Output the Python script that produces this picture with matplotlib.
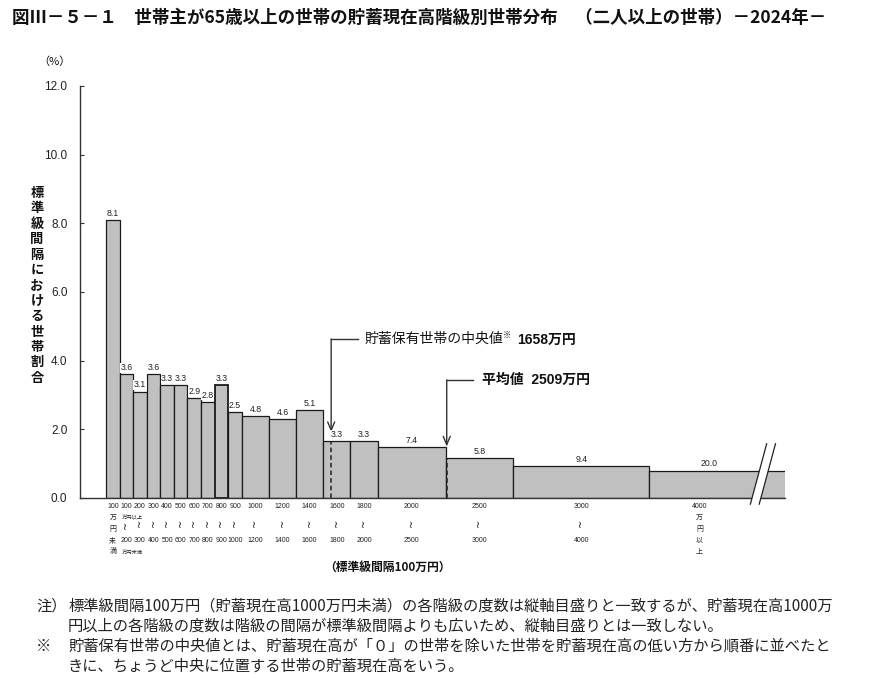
import matplotlib
matplotlib.use("Agg")
import matplotlib.pyplot as plt
import matplotlib.transforms as mtransforms
from matplotlib.patches import Polygon

plt.rcParams['font.family'] = ['Liberation Sans', 'Noto Sans CJK JP', 'DejaVu Sans']
CJK = ['Noto Sans CJK JP', 'DejaVu Sans']

# ---------------- data ----------------
class_lower = [0, 100, 200, 300, 400, 500, 600, 700, 800, 900,
               1000, 1200, 1400, 1600, 1800, 2000, 2500, 3000, 4000]
class_upper = [100, 200, 300, 400, 500, 600, 700, 800, 900, 1000,
               1200, 1400, 1600, 1800, 2000, 2500, 3000, 4000, None]
values = [8.1, 3.6, 3.1, 3.6, 3.3, 3.3, 2.9, 2.8, 3.3, 2.5,
          4.8, 4.6, 5.1, 3.3, 3.3, 7.4, 5.8, 9.4, 20.0]
# divisor relative to standard class width (100万円); open class drawn with 25
width_ratio = [1, 1, 1, 1, 1, 1, 1, 1, 1, 1, 2, 2, 2, 2, 2, 5, 5, 10, 25]
open_class_display_width = 1100

median_value = 1658
mean_value = 2509
median_label = "貯蓄保有世帯の中央値"
median_amount = "1658万円"
mean_label = "平均値  2509万円"

title = "図Ⅲ－５－１　世帯主が65歳以上の世帯の貯蓄現在高階級別世帯分布　（二人以上の世帯）－2024年－"
ylabel = "標準級間隔における世帯割合"
xlabel = "（標準級間隔100万円）"
yunit = "（%）"
yticks = [0, 2, 4, 6, 8, 10, 12]
notes = [
    ("注）", "標準級間隔100万円（貯蓄現在高1000万円未満）の各階級の度数は縦軸目盛りと一致するが、貯蓄現在高1000万"),
    ("", "円以上の各階級の度数は階級の間隔が標準級間隔よりも広いため、縦軸目盛りとは一致しない。"),
    ("※", "貯蓄保有世帯の中央値とは、貯蓄現在高が「０」の世帯を除いた世帯を貯蓄現在高の低い方から順番に並べたと"),
    ("", "きに、ちょうど中央に位置する世帯の貯蓄現在高をいう。"),
]

# ---------------- figure ----------------
W, H = 870, 680
fig = plt.figure(figsize=(W / 100, H / 100), dpi=100)
fig.patch.set_facecolor('white')

def fy(py):
    return 1 - py / H

def fx(px):
    return px / W

ax_left, ax_right, ax_bottom, ax_top = 80, 785, 498, 86
ax = fig.add_axes([fx(ax_left), fy(ax_bottom), (ax_right - ax_left) / W, (ax_bottom - ax_top) / H])
ax.set_xlim(-191.5, 5000)
ax.set_ylim(0, 12)

heights = [v / r for v, r in zip(values, width_ratio)]
widths = [(u - l) if u is not None else open_class_display_width
          for l, u in zip(class_lower, class_upper)]

bar_color = '#c0c0c0'
for i, (l, w, h) in enumerate(zip(class_lower, widths, heights)):
    lw = 1.3 if i == 8 else 0.9
    ax.bar(l, h, width=w, align='edge', color=bar_color, edgecolor='#1a1a1a',
           linewidth=lw, zorder=2)

# value labels
for i, (l, w, h, v) in enumerate(zip(class_lower, widths, heights, values)):
    cx = l + w / 2 if class_upper[i] is not None else l + 440
    ax.annotate(f"{v:.1f}", xy=(cx, h), xytext=(0, 1.5), textcoords='offset points',
                ha='center', va='bottom', fontsize=6.3, color='#222222',
                bbox=dict(boxstyle='square,pad=0.05', fc='white', ec='none'), zorder=4)

# axes style
for s in ['top', 'right']:
    ax.spines[s].set_visible(False)
ax.spines['left'].set_color('#333333')
ax.spines['bottom'].set_color('#333333')
ax.spines['left'].set_linewidth(1.0)
ax.spines['bottom'].set_linewidth(1.0)
ax.spines['bottom'].set_zorder(3)
ax.set_xticks([])
ax.set_yticks(yticks)
ax.set_yticklabels([f"{t:.1f}" for t in yticks], fontsize=8.5, color='#222222')
ax.tick_params(axis='y', direction='in', length=3, pad=9, color='#333333')

# break marks on open-ended class
gap = Polygon([(4745, -0.18), (4865, 1.58), (4930, 1.58), (4810, -0.18)], closed=True,
              fc='white', ec='none', zorder=5, clip_on=False)
ax.add_patch(gap)
ax.plot([4745, 4865], [-0.18, 1.58], color='#222222', lw=0.9, zorder=6, clip_on=False)
ax.plot([4810, 4930], [-0.18, 1.58], color='#222222', lw=0.9, zorder=6, clip_on=False)

# median / mean markers
def height_at(x):
    for l, u, h in zip(class_lower, class_upper, heights):
        if u is not None and l <= x < u:
            return h
    return heights[-1]

line_col = '#333333'
for xv, corner_y, tip_y, hx in [(median_value, 4.63, 1.92, 1856), (mean_value, 3.44, 1.50, 2702)]:
    hb = height_at(xv)
    ax.plot([xv, xv], [0, hb], color='#222222', lw=1.1, ls=(0, (3, 2)), zorder=3)
    ax.plot([xv, hx], [corner_y, corner_y], color=line_col, lw=1.0, zorder=3)
    ax.annotate('', xy=(xv, tip_y), xytext=(xv, corner_y),
                arrowprops=dict(arrowstyle='->,head_length=0.6,head_width=0.25',
                                color=line_col, lw=1.0, shrinkA=0, shrinkB=0), zorder=3)

ax.text(1907, 4.63, median_label, fontsize=10, va='center', ha='left', color='#111111',
        family=CJK)
fig.text(fx(503), fy(335), "※", fontsize=6, va='center', ha='left', color='#111111', family=CJK)
fig.text(fx(517), fy(340), median_amount, fontsize=10, va='center', ha='left',
         color='#111111', fontweight='bold')
ax.text(2769, 3.44, mean_label, fontsize=10, va='center', ha='left', color='#111111',
        fontweight='bold')

# x-axis class labels
tr = mtransforms.blended_transform_factory(ax.transData, fig.transFigure)
lab_kw = dict(ha='center', va='center', fontsize=5, color='#222222', transform=tr)
wave_kw = dict(ha='center', va='center', fontsize=7, color='#222222', transform=tr,
               family=['DejaVu Sans'], rotation=90)
for i, (l, u, w) in enumerate(zip(class_lower, class_upper, widths)):
    if i == 0:
        cx = l + w / 2
        for s, py in zip([str(u), "万", "円", "未", "満"], [507, 518, 530, 541, 552]):
            ax.text(cx, fy(py), s, **lab_kw)
    elif u is None:
        cx = l + 370
        for s, py in zip([str(l), "万", "円", "以", "上"], [507, 518, 530, 541, 552]):
            ax.text(cx, fy(py), s, **lab_kw)
    elif i == 1:
        cx = l + w / 2
        ax.text(cx, fy(507), str(l), **lab_kw)
        ax.text(cx, fy(525), "~", **wave_kw)
        ax.text(cx, fy(541), str(u), **lab_kw)
        ax.text(l + 95, fy(517), "万円以上", ha='center', va='center', fontsize=3.8,
                color='#222222', transform=tr)
        ax.text(l + 95, fy(552), "万円未満", ha='center', va='center', fontsize=3.8,
                color='#222222', transform=tr)
    else:
        cx = l + w / 2
        ax.text(cx, fy(507), str(l), **lab_kw)
        ax.text(cx, fy(523), "~", **wave_kw)
        ax.text(cx, fy(541), str(u), **lab_kw)

# axis texts
fig.text(fx(387), fy(567), xlabel, ha='center', va='center', fontsize=8.5,
         fontweight='bold', color='#111111', family=CJK)
fig.text(fx(54), fy(62), yunit, ha='center', va='center', fontsize=8, color='#111111',
         family=CJK)
for k, ch in enumerate(ylabel):
    fig.text(fx(37), fy(193 + k * 15.4), ch, ha='center', va='center', fontsize=9.5,
             fontweight='bold', color='#111111', family=CJK)

# title
fig.text(fx(12), fy(18), title, ha='left', va='center', fontsize=12.6,
         fontweight='bold', color='#111111', family=CJK)

# notes
note_y = [606, 626, 646, 666]
for (head, body), py in zip(notes, note_y):
    if head:
        fig.text(fx(36), fy(py), head, ha='left', va='center', fontsize=11, color='#222222',
                 family=CJK)
    fig.text(fx(68), fy(py), body, ha='left', va='center', fontsize=11, color='#222222',
             family=CJK)

fig.savefig("out.png", dpi=100, facecolor='white')
